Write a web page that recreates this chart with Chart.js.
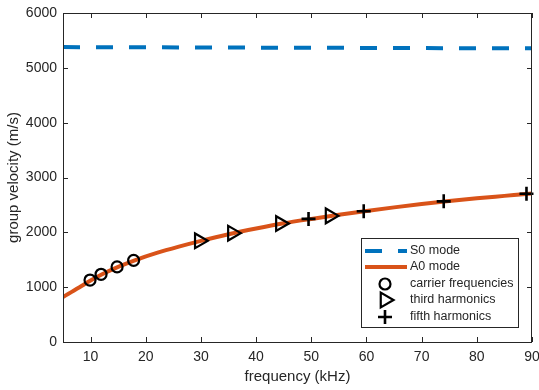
<!DOCTYPE html>
<html>
<head>
<meta charset="utf-8">
<script src="https://cdn.jsdelivr.net/npm/chart.js@4"></script>
<style>
  html, body { margin: 0; padding: 0; background: #fff; }
  #wrap { width: 539px; height: 390px; }
</style>
</head>
<body>
<div id="wrap"><canvas id="myChart" width="539" height="390"></canvas></div>
<script>
// values
const s0Freq = [5, 90];
const s0Vel = [5378, 5355];

const a0Freq = [5, 6, 7, 8, 10, 12, 15, 18, 22, 26, 30, 35, 40, 45, 50, 55, 60, 65, 70, 75, 80, 85, 90];
const a0Vel = [820, 880, 940, 1000, 1120, 1230, 1370, 1490, 1625, 1740, 1845, 1965, 2070, 2165, 2245, 2320, 2390, 2455, 2515, 2570, 2620, 2665, 2710];

const carrierFreq = [9.9, 11.9, 14.8, 17.8];
const carrierVel = [1130, 1235, 1370, 1490];
const thirdFreq = [29.7, 35.7, 44.4, 53.4];
const thirdVel = [1845, 1985, 2160, 2300];
const fifthFreq = [49.5, 59.5, 74, 89];
const fifthVel = [2245, 2385, 2565, 2705];

const xTicks = [10, 20, 30, 40, 50, 60, 70, 80, 90];
const yTicks = [0, 1000, 2000, 3000, 4000, 5000, 6000];

const labels = ['S0 mode', 'A0 mode', 'carrier frequencies', 'third harmonics', 'fifth harmonics'];

const FONT = "'Liberation Sans', Arial, sans-serif";
const AXC = '#262626';

function pts(xs, ys) {
  return xs.map((x, i) => ({ x: x, y: ys[i] }));
}

// box + inward ticks like matlab, and legend inside the axes
const boxPlugin = {
  id: 'box',
  afterDraw(chart) {
    const c = chart.ctx, a = chart.chartArea;
    const xs = chart.scales.x, ys = chart.scales.y;
    c.save();
    c.strokeStyle = AXC;
    c.lineWidth = 1;
    c.strokeRect(Math.round(a.left) + 0.5, Math.round(a.top) + 0.5, Math.round(a.right - a.left) - 1, Math.round(a.bottom - a.top));
    c.beginPath();
    xTicks.forEach(v => {
      const p = Math.round(xs.getPixelForValue(v)) + 0.5;
      c.moveTo(p, a.bottom); c.lineTo(p, a.bottom - 5);
      c.moveTo(p, a.top); c.lineTo(p, a.top + 5);
    });
    yTicks.forEach(v => {
      const p = Math.round(ys.getPixelForValue(v)) + 0.5;
      c.moveTo(a.left, p); c.lineTo(a.left + 5, p);
      c.moveTo(a.right, p); c.lineTo(a.right - 5, p);
    });
    c.stroke();

    // legend
    const lx = 361, ly = 238, lw = 157, lh = 89;
    c.fillStyle = '#fff';
    c.fillRect(lx, ly, lw, lh);
    c.strokeStyle = '#262626';
    c.strokeRect(lx + 0.5, ly + 0.5, lw, lh);
    const rowY = [251, 267, 284, 300, 317];
    c.font = '12.5px ' + FONT;
    c.textBaseline = 'middle';
    chart.data.datasets.forEach((ds, i) => {
      const y = rowY[i];
      if (ds.showLine !== false) {
        c.save();
        c.strokeStyle = ds.borderColor;
        c.lineWidth = ds.borderWidth;
        c.setLineDash(ds.borderDash || []);
        c.beginPath();
        c.moveTo(365, y); c.lineTo(407, y);
        c.stroke();
        c.restore();
      } else {
        c.save();
        c.fillStyle = 'rgba(0,0,0,0)';
        c.strokeStyle = '#000';
        c.lineWidth = ds.pointBorderWidth;
        Chart.helpers.drawPoint(c, {
          pointStyle: ds.pointStyle, radius: ds.pointRadius,
          rotation: ds.rotation || 0, borderWidth: ds.pointBorderWidth
        }, 385, y);
        c.restore();
      }
      c.fillStyle = AXC;
      c.fillText(labels[i], 410, y);
    });
    c.restore();
  }
};

const markerStyle = {
  showLine: false,
  order: 0,
  clip: false,
  borderColor: '#000',
  backgroundColor: 'rgba(0,0,0,0)',
  pointBorderColor: '#000',
  pointBackgroundColor: 'rgba(0,0,0,0)',
  pointBorderWidth: 2.2,
  pointHoverRadius: 0
};

new Chart(document.getElementById('myChart'), {
  type: 'line',
  data: {
    datasets: [
      {
        label: labels[0],
        data: pts(s0Freq, s0Vel),
        order: 2,
        borderColor: '#0072BD',
        borderWidth: 4,
        borderDash: [17, 16],
        pointRadius: 0,
        tension: 0
      },
      {
        label: labels[1],
        data: pts(a0Freq, a0Vel),
        order: 1,
        borderColor: '#D95319',
        borderWidth: 4,
        pointRadius: 0,
        cubicInterpolationMode: 'monotone'
      },
      Object.assign({ label: labels[2], data: pts(carrierFreq, carrierVel), pointStyle: 'circle', pointRadius: 5.5 }, markerStyle),
      Object.assign({ label: labels[3], data: pts(thirdFreq, thirdVel), pointStyle: 'triangle', pointRadius: 8.5, rotation: 90 }, markerStyle),
      Object.assign({}, markerStyle, { label: labels[4], data: pts(fifthFreq, fifthVel), pointStyle: 'cross', pointRadius: 7, pointBorderWidth: 2.6 })
    ]
  },
  options: {
    responsive: false,
    animation: false,
    layout: { autoPadding: false, padding: { top: 13, right: 7, left: 0, bottom: 0 } },
    plugins: { legend: { display: false }, tooltip: { enabled: false } },
    scales: {
      x: {
        type: 'linear',
        min: 5,
        max: 90,
        afterFit(s) { s.height = 48; s.paddingRight = 0; s.paddingLeft = 0; },
        afterBuildTicks(s) { s.ticks = xTicks.map(v => ({ value: v })); },
        grid: { display: false, drawTicks: false },
        border: { display: false },
        ticks: { color: AXC, font: { family: FONT, size: 14 }, padding: 7, maxRotation: 0, callback: v => String(v) },
        title: { display: true, text: 'frequency (kHz)', color: AXC, font: { family: FONT, size: 15 }, padding: { top: 0, bottom: 4 } }
      },
      y: {
        type: 'linear',
        min: 0,
        max: 6000,
        afterFit(s) { s.width = 63; s.paddingTop = 0; s.paddingBottom = 0; },
        afterBuildTicks(s) { s.ticks = yTicks.map(v => ({ value: v })); },
        grid: { display: false, drawTicks: false },
        border: { display: false },
        ticks: { color: AXC, font: { family: FONT, size: 14 }, padding: 6, callback: v => String(v) },
        title: { display: true, text: 'group velocity (m/s)', color: AXC, font: { family: FONT, size: 15 }, padding: { top: 5, bottom: 0 } }
      }
    }
  },
  plugins: [boxPlugin]
});
</script>
</body>
</html>
